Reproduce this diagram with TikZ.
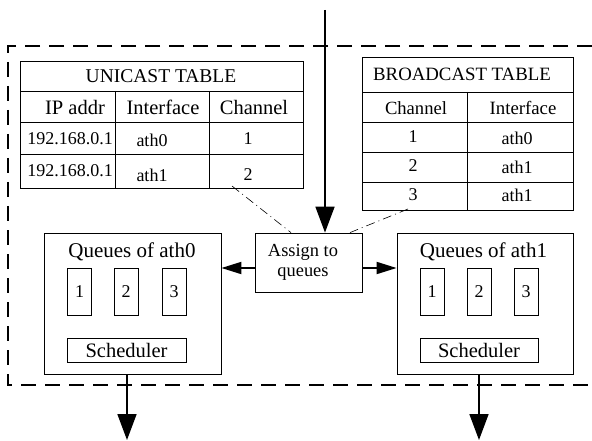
\documentclass[tikz,border=0pt]{standalone}
\usepackage{fontspec}
\setmainfont{Liberation Serif}
\usetikzlibrary{arrows.meta}
\newcommand{\fs}[1]{\fontsize{#1}{#1}\selectfont}
\tikzset{
  box/.style={draw, line width=0.8pt},
  txt/.style={inner sep=0pt, anchor=center},
  flow/.style={line width=1.8pt, -{Triangle[length=26pt,width=19pt]}},
  sideflow/.style={line width=1.8pt, -{Triangle[length=20pt,width=12pt]}},
  lookup/.style={line width=0.6pt, dash pattern=on 9pt off 4pt on 1pt off 4pt},
  frame/.style={line width=1.8pt, dash pattern=on 15pt off 9pt},
}
\begin{document}
\begin{tikzpicture}[x=1pt,y=-1pt]
\useasboundingbox (0,0) rectangle (592,441);

% dashed boundary of the node
\draw[frame] (592,46) -- (8,46) -- (8,385) -- (592,385);

% unicast table
\draw[box] (20,61) rectangle (303,188);
\draw[box] (20,91) -- (303,91) (20,122) -- (303,122) (20,154) -- (303,154);
\draw[box] (115,91) -- (115,188) (209,91) -- (209,188);
\node[txt] (utitle) at (161,76) {\fs{19.5}UNICAST TABLE};
\node[txt] (uh1) at (75,107) {\fs{20.5}IP addr};
\node[txt] (uh2) at (163,107) {\fs{20.5}Interface};
\node[txt] (uh3) at (254,107) {\fs{20.5}Channel};
\node[txt] (ua1) at (70,139) {\fs{18}192.168.0.1};
\node[txt] (ua2) at (152,140) {\fs{18}ath0};
\node[txt] (ua3) at (248,139) {\fs{18}1};
\node[txt] (ub1) at (70,171) {\fs{18}192.168.0.1};
\node[txt] (ub2) at (152,175) {\fs{18}ath1};
\node[txt] (ub3) at (248,175) {\fs{18}2};
\coordinate (uend) at (232,186);

% broadcast table
\draw[box] (362,57) rectangle (573,210);
\draw[box] (362,92) -- (573,92) (362,122) -- (573,122) (362,152) -- (573,152) (362,182) -- (573,182);
\draw[box] (467,92) -- (467,210);
\node[txt] (btitle) at (462,74) {\fs{18.8}BROADCAST TABLE};
\node[txt] (bh1) at (416,108) {\fs{18.6}Channel};
\node[txt] (bh2) at (523,108) {\fs{18.8}Interface};
\node[txt] (ba1) at (413,137) {\fs{18}1};
\node[txt] (ba2) at (517,138) {\fs{18}ath0};
\node[txt] (bb1) at (413,166) {\fs{18}2};
\node[txt] (bb2) at (517,167) {\fs{18}ath1};
\node[txt] (bc1) at (413,195) {\fs{18}3};
\node[txt] (bc2) at (517,195) {\fs{18}ath1};
\coordinate (bend) at (408,209);

% dispatcher
\node[box, minimum width=107pt, minimum height=59pt, inner sep=0pt, align=center] (assign) at (308.5,262.5) {};
\node[txt] (assign1) at (303,252) {\fs{18.4}Assign to};
\node[txt] (assign2) at (303,274) {\fs{18.4}queues};

% queues of ath0
\node[box, minimum width=177pt, minimum height=141pt, inner sep=0pt] (q0) at (132.5,303.5) {};
\node[txt] (q0t) at (132,252) {\fs{21}Queues of ath0};
\node[box, minimum width=24pt, minimum height=47pt, inner sep=0pt] (q01) at (79.5,291.5) {\fs{18}1};
\node[box, minimum width=24pt, minimum height=47pt, inner sep=0pt] (q02) at (126,291.5) {\fs{18}2};
\node[box, minimum width=24pt, minimum height=47pt, inner sep=0pt] (q03) at (174,291.5) {\fs{18}3};
\node[box, minimum width=119pt, minimum height=24pt, inner sep=0pt] (s0) at (126.5,350) {\fs{20.5}Scheduler};

% queues of ath1
\node[box, minimum width=176pt, minimum height=141pt, inner sep=0pt] (q1) at (485,303.5) {};
\node[txt] (q1t) at (483.5,252) {\fs{21}Queues of ath1};
\node[box, minimum width=24pt, minimum height=47pt, inner sep=0pt] (q11) at (432,291.5) {\fs{18}1};
\node[box, minimum width=24pt, minimum height=47pt, inner sep=0pt] (q12) at (479,291.5) {\fs{18}2};
\node[box, minimum width=24pt, minimum height=47pt, inner sep=0pt] (q13) at (526,291.5) {\fs{18}3};
\node[box, minimum width=118pt, minimum height=24pt, inner sep=0pt] (s1) at (479,350) {\fs{20.5}Scheduler};

% connectors
\coordinate (in) at (325,10);
\coordinate (out0) at (127,440);
\coordinate (out1) at (479,440);
\draw[flow] (in) -- (in |- assign.north);
\draw[sideflow] (assign.west |- 0,268) -- (q0.east |- 0,268);
\draw[sideflow] (assign.east |- 0,268) -- (q1.west |- 0,268);
\draw[flow] (q0.south -| out0) -- (out0);
\draw[flow] (q1.south -| out1) -- (out1);
\draw[lookup] (uend) -- (assign.north -| 291,0);
\draw[lookup] (bend) -- (assign.north -| 350,0);
\end{tikzpicture}
\end{document}
